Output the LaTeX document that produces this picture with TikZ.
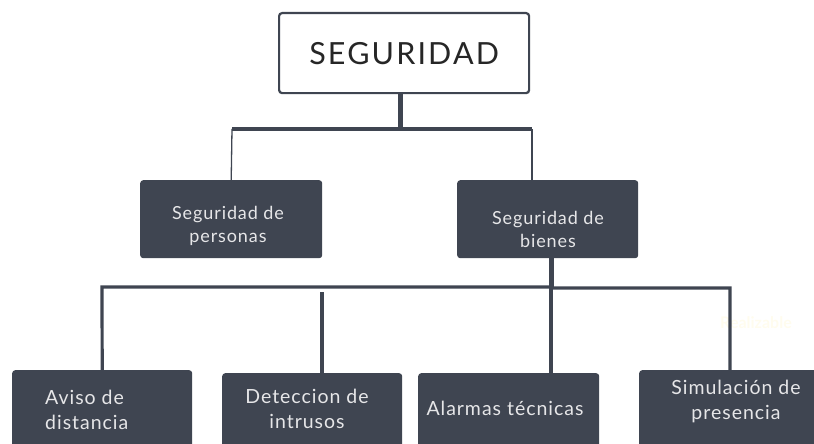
\documentclass[tikz,border=0pt]{standalone}
\usepackage{fontspec}
\setmainfont{Lato}
\definecolor{slate}{HTML}{3F4551}
\definecolor{paper}{HTML}{E6E6E8}
\definecolor{ghost}{HTML}{FFFCEE}
\tikzset{
  titlebox/.style={draw=slate, line width=2.2pt, fill=white, rounded corners=3pt, anchor=north west, inner sep=0pt, text=black!85, font=\fontsize{30.5}{34}\selectfont\addfontfeature{LetterSpace=7}},
  catbox/.style={fill=slate, rounded corners=3pt, anchor=north west, inner sep=0pt},
  cattext/.style={text=paper, inner sep=0pt, font=\fontsize{18}{23}\selectfont\addfontfeature{LetterSpace=5}},
  leaftext/.style={text=paper, inner sep=0pt, font=\fontsize{19.5}{25}\selectfont\addfontfeature{LetterSpace=5}},
  thinlink/.style={draw=slate, line width=1.3pt},
  midlink/.style={draw=slate, line width=3.2pt},
  thicklink/.style={draw=slate, line width=5pt}
}

\begin{document}
\begin{tikzpicture}[x=1pt,y=-1pt]
\clip (0,0) rectangle (814,444);
\node[titlebox, minimum width=250pt, minimum height=80pt] (seguridad) at (278,12) {SEGURIDAD};

\node[catbox, minimum width=182pt, minimum height=78pt] (personas) at (140,180) {};
\node[catbox, minimum width=181pt, minimum height=78pt] (bienes) at (457,180) {};
\node[cattext, align=center] (personasTxt) at (228,226) {Seguridad de\\personas};
\node[cattext, align=center] (bienesTxt) at (548,229) {Seguridad de\\bienes};

\node[catbox, minimum width=180pt, minimum height=110pt] (aviso) at (12,370) {};
\node[catbox, minimum width=180pt, minimum height=110pt] (deteccion) at (222,373) {};
\node[catbox, minimum width=181pt, minimum height=110pt] (alarmas) at (418,373) {};
\node[catbox, minimum width=180pt, minimum height=110pt] (simulacion) at (639,370) {};
\node[leaftext, align=left, anchor=west] (avisoTxt) at (45,410) {Aviso de\\distancia};
\node[leaftext, align=center] (deteccionTxt) at (307,409) {Deteccion de\\intrusos};
\node[leaftext] (alarmasTxt) at (505,408) {Alarmas técnicas};
\node[leaftext, align=center] (simulacionTxt) at (736,401) {Simulación de\\presencia};
\node[text=ghost, font=\fontsize{16}{18}\selectfont\bfseries] (realizable) at (756,323) {Realizable};

\coordinate (topHub) at (400,129);
\coordinate (topLeft) at (232,129);
\coordinate (topRight) at (532,129);
\coordinate (bienesIn) at (532,180);
\coordinate (lowHub) at (551,287);
\coordinate (lowLeft) at (102,287);
\coordinate (lowRight) at (730,288);
\coordinate (detTop) at (322,292);
\coordinate (alaTop) at (551,373);

\draw[thicklink] (topHub |- seguridad.south) -- (topHub);
\draw[midlink] (topLeft) -- (topRight);
\draw[thinlink] (topLeft) -- (personas.north);
\draw[thinlink] (topRight) -- (bienesIn);

\draw[thicklink] (bienes.south -| lowHub) -- (lowHub);
\draw[midlink] (aviso.north) -- (lowLeft) -- (lowHub) -- (lowHub |- lowRight) -- (lowRight) -- (lowRight |- simulacion.north);
\draw[midlink] (detTop) -- (detTop |- deteccion.north);
\draw[midlink] (lowHub) -- (alaTop);
\end{tikzpicture}
\end{document}
